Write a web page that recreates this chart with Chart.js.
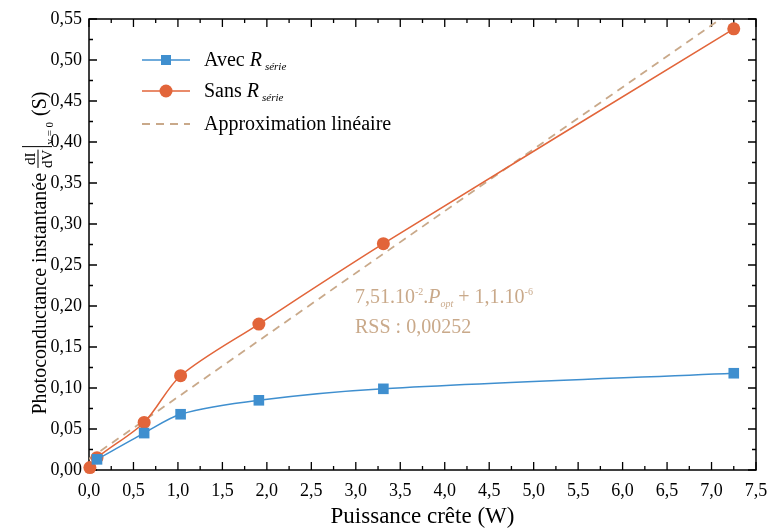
<!DOCTYPE html>
<html>
<head>
<meta charset="utf-8">
<script src="https://cdn.jsdelivr.net/npm/chart.js@4"></script>
<style>
  html, body { margin: 0; padding: 0; background: #fff; }
  #wrap { width: 768px; height: 531px; }
</style>
</head>
<body>
<div id="wrap"><canvas id="chart" width="768" height="531"></canvas></div>
<script>
// Data
const powerAvec = [0.09, 0.62, 1.03, 1.91, 3.31, 7.25];
const condAvec = [0.013, 0.045, 0.068, 0.085, 0.099, 0.118];
const powerSans = [0.01, 0.09, 0.62, 1.03, 1.91, 3.31, 7.25];
const condSans = [0.003, 0.015, 0.058, 0.115, 0.178, 0.276, 0.538];
// linear fit line end points
const fitX = [0, 7.3];
const fitY = [0.0135, 0.565];

const BLUE = '#3f8fcf';
const ORANGE = '#e2653a';
const TAN = '#c9a98a';
const SERIF = '"Liberation Serif", "DejaVu Serif", serif';

function toPoints(xs, ys) {
    return xs.map((x, i) => ({ x: x, y: ys[i] }));
}

function comma(v, d) {
    return v.toFixed(d).replace('.', ',');
}

// frame with inward ticks on all four sides
const framePlugin = {
    id: 'frame',
    beforeDatasetsDraw(chart) {
        const ctx = chart.ctx;
        const a = chart.chartArea;
        const xs = chart.scales.x, ys = chart.scales.y;
        ctx.save();
        ctx.strokeStyle = '#000';
        ctx.lineWidth = 1.5;
        ctx.strokeRect(a.left, a.top, a.right - a.left, a.bottom - a.top);
        ctx.lineWidth = 1.3;
        ctx.beginPath();
        for (let i = 0; i <= 30; i++) {
            const v = i * 0.25;
            const px = xs.getPixelForValue(v);
            const len = i % 2 === 0 ? 8 : 4;
            ctx.moveTo(px, a.bottom); ctx.lineTo(px, a.bottom - len);
            ctx.moveTo(px, a.top); ctx.lineTo(px, a.top + len);
        }
        for (let i = 0; i <= 22; i++) {
            const v = i * 0.025;
            const py = ys.getPixelForValue(v);
            const len = i % 2 === 0 ? 8 : 4;
            ctx.moveTo(a.left, py); ctx.lineTo(a.left + len, py);
            ctx.moveTo(a.right, py); ctx.lineTo(a.right - len, py);
        }
        ctx.stroke();
        ctx.restore();
    }
};

// legend, fit annotation and y title with the dI/dV fraction
const textPlugin = {
    id: 'texts',
    afterDraw(chart) {
        const ctx = chart.ctx;
        ctx.save();
        ctx.textBaseline = 'alphabetic';
        ctx.textAlign = 'left';

        // legend
        const rows = [
            { y: 60, color: BLUE, label: 'Avec ', marker: 'rect' },
            { y: 91, color: ORANGE, label: 'Sans ', marker: 'circle' },
            { y: 124, color: TAN, label: 'Approximation linéaire', marker: 'dash' }
        ];
        rows.forEach(r => {
            ctx.strokeStyle = r.color;
            ctx.fillStyle = r.color;
            ctx.lineWidth = r.marker === 'dash' ? 1.8 : 1.5;
            ctx.setLineDash(r.marker === 'dash' ? [8, 6] : []);
            ctx.beginPath();
            ctx.moveTo(142, r.y); ctx.lineTo(190, r.y);
            ctx.stroke();
            ctx.setLineDash([]);
            if (r.marker === 'rect') ctx.fillRect(161, r.y - 5, 10, 10);
            if (r.marker === 'circle') {
                ctx.beginPath(); ctx.arc(166, r.y, 6.5, 0, Math.PI * 2); ctx.fill();
            }
            ctx.fillStyle = '#000';
            ctx.font = '20px ' + SERIF;
            let x = 204;
            ctx.fillText(r.label, x, r.y + 6);
            if (r.marker !== 'dash') {
                x += ctx.measureText(r.label).width;
                ctx.font = 'italic 20px ' + SERIF;
                ctx.fillText('R', x, r.y + 6);
                x += ctx.measureText('R').width + 3;
                ctx.font = 'italic 11px ' + SERIF;
                ctx.fillText('série', x, r.y + 10);
            }
        });

        // fit annotation
        ctx.fillStyle = TAN;
        let x = 355;
        const by = 303;
        const parts = [
            ['7,51.10', '20px', 0],
            ['-2', '10px', -8],
            ['.', '20px', 0],
            ['P', 'italic 20px', 0],
            ['opt', 'italic 10px', 4],
            [' + 1,1.10', '20px', 0],
            ['-6', '10px', -8]
        ];
        parts.forEach(p => {
            ctx.font = p[1] + ' ' + SERIF;
            ctx.fillText(p[0], x, by + p[2]);
            x += ctx.measureText(p[0]).width;
        });
        ctx.font = '20px ' + SERIF;
        ctx.fillText('RSS : 0,00252', 355, 333);

        // y axis title
        ctx.fillStyle = '#000';
        ctx.strokeStyle = '#000';
        ctx.translate(39, 253);
        ctx.rotate(-Math.PI / 2);
        const main = 'Photoconductance instantanée ';
        ctx.font = '15px ' + SERIF;
        const fw = Math.max(ctx.measureText('dI').width, ctx.measureText('dV').width);
        ctx.font = '11px ' + SERIF;
        const subW = ctx.measureText('v = 0').width;
        ctx.font = '20px ' + SERIF;
        const total = ctx.measureText(main).width + fw + 6 + subW + ctx.measureText(' (S)').width;
        let tx = -total / 2;
        ctx.fillText(main, tx, 7);
        tx += ctx.measureText(main).width;
        ctx.lineWidth = 1;
        ctx.beginPath();
        ctx.moveTo(tx, -1); ctx.lineTo(tx + fw, -1);
        ctx.moveTo(tx + fw + 3, -17); ctx.lineTo(tx + fw + 3, 13);
        ctx.stroke();
        ctx.font = '15px ' + SERIF;
        ctx.textAlign = 'center';
        ctx.fillText('dI', tx + fw / 2, -4);
        ctx.fillText('dV', tx + fw / 2, 13);
        ctx.textAlign = 'left';
        tx += fw + 5;
        ctx.font = '11px ' + SERIF;
        ctx.fillText('v = 0', tx, 14);
        tx += subW + 1;
        ctx.font = '20px ' + SERIF;
        ctx.fillText(' (S)', tx, 7);
        ctx.restore();
    }
};

new Chart(document.getElementById('chart'), {
    type: 'line',
    data: {
        datasets: [
            {
                label: 'Approximation linéaire',
                data: toPoints(fitX, fitY),
                borderColor: TAN,
                borderWidth: 1.8,
                borderDash: [8, 6],
                pointRadius: 0,
                fill: false,
                order: 3
            },
            {
                label: 'Sans R série',
                data: toPoints(powerSans, condSans),
                borderColor: ORANGE,
                backgroundColor: ORANGE,
                borderWidth: 1.5,
                pointStyle: 'circle',
                pointRadius: 6.5,
                pointBorderWidth: 0,
                tension: 0.3,
                clip: false,
                fill: false,
                order: 2
            },
            {
                label: 'Avec R série',
                data: toPoints(powerAvec, condAvec),
                borderColor: BLUE,
                backgroundColor: BLUE,
                borderWidth: 1.5,
                pointStyle: 'rect',
                pointRadius: 7.5,
                pointBorderWidth: 0,
                tension: 0.3,
                clip: false,
                fill: false,
                order: 1
            }
        ]
    },
    options: {
        responsive: false,
        animation: false,
        layout: { padding: { top: 19, right: 12, left: 0, bottom: 0 } },
        plugins: {
            legend: { display: false },
            tooltip: { enabled: false }
        },
        scales: {
            x: {
                type: 'linear',
                min: 0,
                max: 7.5,
                afterFit: s => { s.height = 61; s.paddingLeft = 0; s.paddingRight = 0; },
                grid: { display: false, drawTicks: false },
                border: { display: false },
                ticks: {
                    stepSize: 0.5,
                    padding: 10,
                    color: '#000',
                    font: { family: SERIF, size: 18 },
                    maxRotation: 0,
                    callback: v => comma(v, 1)
                },
                title: {
                    display: true,
                    text: 'Puissance crête (W)',
                    color: '#000',
                    font: { family: SERIF, size: 23 },
                    padding: { top: 0, bottom: 0 }
                }
            },
            y: {
                min: 0,
                max: 0.55,
                afterFit: s => { s.width = 89; s.paddingTop = 0; s.paddingBottom = 0; },
                grid: { display: false, drawTicks: false },
                border: { display: false },
                ticks: {
                    stepSize: 0.05,
                    padding: 7,
                    color: '#000',
                    font: { family: SERIF, size: 18 },
                    callback: v => comma(v, 2)
                }
            }
        }
    },
    plugins: [framePlugin, textPlugin]
});
</script>
</body>
</html>
